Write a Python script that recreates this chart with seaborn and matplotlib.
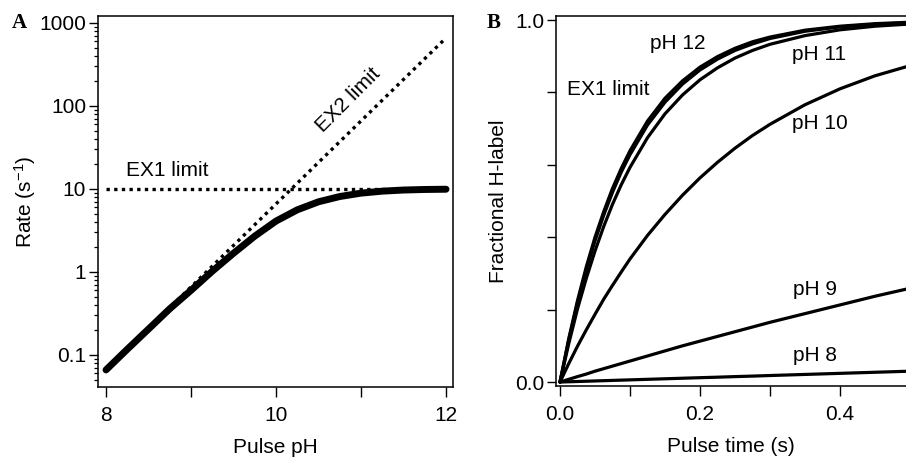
import numpy as np
import pandas as pd
import matplotlib
matplotlib.use("Agg")
import matplotlib.pyplot as plt
import seaborn as sns
from matplotlib.ticker import LogLocator, NullFormatter

# Panel A: rate vs pulse pH
ph_vals = [8.0, 8.25, 8.5, 8.75, 9.0, 9.25, 9.5, 9.75, 10.0, 10.25, 10.5,
           10.75, 11.0, 11.25, 11.5, 11.75, 12.0]
rate_vals = [0.066, 0.117, 0.205, 0.36, 0.60, 1.02, 1.68, 2.70, 4.1, 5.6, 7.0,
             8.1, 8.9, 9.4, 9.7, 9.85, 9.92]
ex1_ph = [8.0, 12.0]
ex1_rate = [10.0, 10.0]
ex2_ph = [8.0, 12.0]
ex2_rate = [0.066, 660.0]

# Panel B: fractional H-label vs pulse time
pulse_t = [0, 0.0125, 0.025, 0.0375, 0.05, 0.0625, 0.075, 0.0875, 0.1, 0.125, 0.15,
           0.175, 0.2, 0.225, 0.25, 0.275, 0.3, 0.35, 0.4, 0.45, 0.5]
frac_ex1 = [0, .120, .225, .318, .400, .471, .535, .590, .639, .721, .784,
            .832, .870, .899, .922, .940, .953, .972, .983, .990, .994]
frac_ph12 = [0, .116, .219, .310, .390, .461, .524, .580, .628, .710, .773,
             .823, .862, .892, .916, .934, .949, .969, .981, .988, .993]
frac_ph11 = [0, .106, .202, .286, .362, .430, .491, .545, .593, .675, .741,
             .793, .835, .868, .895, .916, .933, .957, .973, .983, .989]
frac_ph10 = [0, .051, .099, .144, .187, .229, .267, .304, .340, .405, .463,
             .516, .564, .607, .646, .681, .712, .766, .810, .846, .874]
frac_ph9 = [0, .0075, .015, .022, .030, .037, .044, .051, .058, .072, .086,
            .100, .113, .126, .139, .152, .165, .189, .213, .237, .259]
frac_ph8 = [0, .00075, .0015, .00225, .003, .00375, .0045, .00525, .006, .0075, .009,
            .0105, .012, .0134, .015, .0164, .018, .021, .024, .027, .030]

sns.set_theme(style="ticks")
plt.rcParams['font.family'] = ['Liberation Sans', 'DejaVu Sans']
plt.rcParams['mathtext.default'] = 'regular'
plt.rcParams['axes.linewidth'] = 1.1
for key in ['text.color', 'axes.labelcolor', 'xtick.color', 'ytick.color', 'axes.edgecolor']:
    plt.rcParams[key] = 'black'

fig = plt.figure(figsize=(9.06, 4.59), dpi=100)
axA = fig.add_axes([0.1082, 0.1569, 0.3918, 0.8083])
axB = fig.add_axes([0.6137, 0.159, 0.3863, 0.806])

dotted = (0, (1, 1.3))

# ---- Panel A
dfA = pd.DataFrame({'ph': ph_vals, 'rate': rate_vals})
sns.lineplot(x=ex1_ph, y=ex1_rate, ax=axA, color='black', lw=2.4, linestyle=dotted)
sns.lineplot(x=ex2_ph, y=ex2_rate, ax=axA, color='black', lw=2.4, linestyle=dotted)
sns.lineplot(data=dfA, x='ph', y='rate', ax=axA, color='black', lw=5.0)
axA.set_yscale('log')
axA.set_xlim(7.906, 12.082)
axA.set_ylim(0.0411, 1213)
axA.set_xticks([8, 9, 10, 11, 12], ['8', '', '10', '', '12'])
axA.set_yticks([0.1, 1, 10, 100, 1000], ['0.1', '1', '10', '100', '1000'])
axA.yaxis.set_minor_locator(LogLocator(base=10, subs=np.arange(2, 10)))
axA.yaxis.set_minor_formatter(NullFormatter())
axA.set_xlabel('Pulse pH', fontsize=15, labelpad=9)
axA.set_ylabel('Rate (s$^{-1}$)', fontsize=15, labelpad=1)
axA.text(8.235, 16.9, 'EX1 limit', fontsize=15, va='center', ha='left')
axA.text(10.85, 118, 'EX2 limit', fontsize=15, va='center', ha='center', rotation=45)

# ---- Panel B
for vals in [frac_ex1, frac_ph12, frac_ph11, frac_ph10, frac_ph9, frac_ph8]:
    sns.lineplot(x=pulse_t, y=vals, ax=axB, color='black', lw=2.3)
axB.set_xlim(-0.0057, 0.4943)
axB.set_ylim(-0.011, 1.011)
axB.set_xticks([0, 0.1, 0.2, 0.3, 0.4], ['0.0', '', '0.2', '', '0.4'])
axB.set_yticks([0, 0.2, 0.4, 0.6, 0.8, 1.0], ['0.0', '', '', '', '', '1.0'])
axB.spines['right'].set_visible(False)
axB.set_xlabel('Pulse time (s)', fontsize=15, labelpad=9)
axB.set_ylabel('Fractional H-label', fontsize=15, labelpad=5)
for label, x, y in [('pH 12', 0.129, 0.936), ('EX1 limit', 0.010, 0.809),
                    ('pH 11', 0.331, 0.906), ('pH 10', 0.331, 0.713),
                    ('pH 9', 0.333, 0.257), ('pH 8', 0.333, 0.072)]:
    axB.text(x, y, label, fontsize=15, va='center', ha='left')

for ax in (axA, axB):
    ax.tick_params(axis='x', which='major', direction='out', length=7,
                   width=1.0, labelsize=15, pad=7)
    ax.tick_params(axis='y', which='major', direction='out', length=6.5,
                   width=1.0, labelsize=15, pad=2)
    ax.tick_params(axis='y', which='minor', direction='out', length=3.2, width=0.9)
    ax.grid(False)

fig.text(12 / 906, 1 - 23 / 459, 'A', fontsize=15, fontweight='bold',
         family=['Liberation Serif'], va='center', ha='left')
fig.text(487 / 906, 1 - 23 / 459, 'B', fontsize=15, fontweight='bold',
         family=['Liberation Serif'], va='center', ha='left')

fig.savefig('out.png', dpi=100)
